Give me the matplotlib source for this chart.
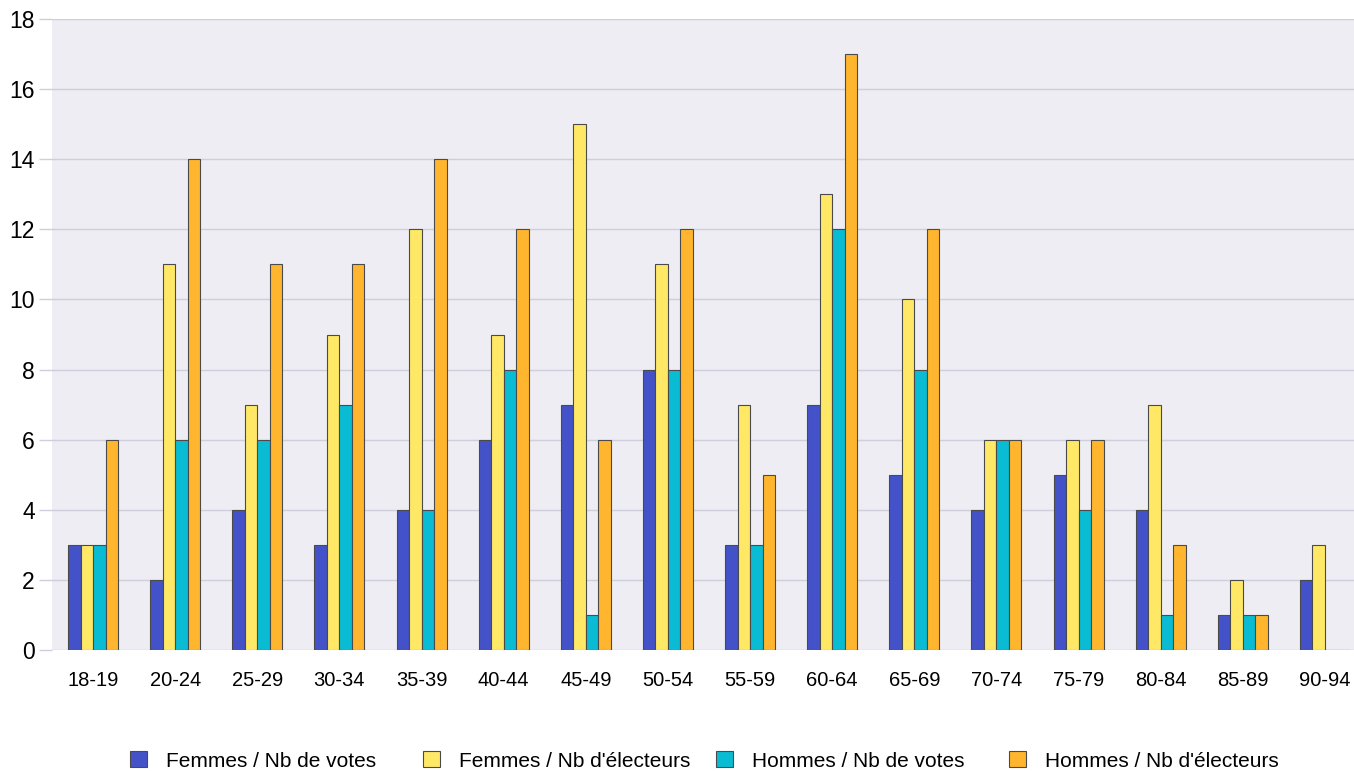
import numpy as np
import matplotlib.pyplot as plt

plt.rcParams['font.family'] = ['Liberation Sans', 'DejaVu Sans']

# age groups and counts
ages = ['18-19', '20-24', '25-29', '30-34', '35-39', '40-44', '45-49', '50-54',
        '55-59', '60-64', '65-69', '70-74', '75-79', '80-84', '85-89', '90-94']
femmes_votes = [3, 2, 4, 3, 4, 6, 7, 8, 3, 7, 5, 4, 5, 4, 1, 2]
femmes_electeurs = [3, 11, 7, 9, 12, 9, 15, 11, 7, 13, 10, 6, 6, 7, 2, 3]
hommes_votes = [3, 6, 6, 7, 4, 8, 1, 8, 3, 12, 8, 6, 4, 1, 1, 0]
hommes_electeurs = [6, 14, 11, 11, 14, 12, 6, 12, 5, 17, 12, 6, 6, 3, 1, 0]

series = [
    ('Femmes / Nb de votes', femmes_votes, '#4352C8'),
    ("Femmes / Nb d'électeurs", femmes_electeurs, '#FFE866'),
    ('Hommes / Nb de votes', hommes_votes, '#0ABCD3'),
    ("Hommes / Nb d'électeurs", hommes_electeurs, '#FFB52E'),
]

W, H = 1354, 771
fig = plt.figure(figsize=(W / 100, H / 100), dpi=100)
ax = fig.add_axes([52 / W, 121 / H, 1314 / W, 631 / H])
ax.set_facecolor('#EEEDF3')

x = np.arange(len(ages))
bw = 0.152
bars = []
for i, (label, vals, color) in enumerate(series):
    b = ax.bar(x + (i - 1.5) * bw, vals, bw, color=color, edgecolor='#4a4a4a',
               linewidth=0.8, label=label, zorder=3)
    bars.append(b)

ax.set_xlim(-0.5, len(ages) - 0.5)
ax.set_ylim(0, 18)
ax.set_yticks(range(0, 19, 2))
ax.set_xticks(x)
ax.set_xticklabels(ages)
ax.grid(axis='y', color='#CFCEDC', linewidth=1, zorder=0)
for s in ax.spines.values():
    s.set_visible(False)
ax.tick_params(axis='y', length=9.5, color='#CFCEDC', width=1, labelsize=16.5, pad=3)
ax.tick_params(axis='x', length=0, labelsize=14.5, pad=15)

# legend entries placed one by one, evenly spaced like the original
leg_x = [130, 423, 716, 1009]
for b, (label, _, _), lx in zip(bars, series, leg_x):
    fig.legend(handles=[b], labels=[label], loc='center left',
               bbox_to_anchor=(lx / W, 10 / H), frameon=False, fontsize=15,
               handlelength=0.8, handleheight=0.8, handletextpad=0.95,
               borderpad=0, borderaxespad=0)

fig.savefig('out.png', dpi=100)
